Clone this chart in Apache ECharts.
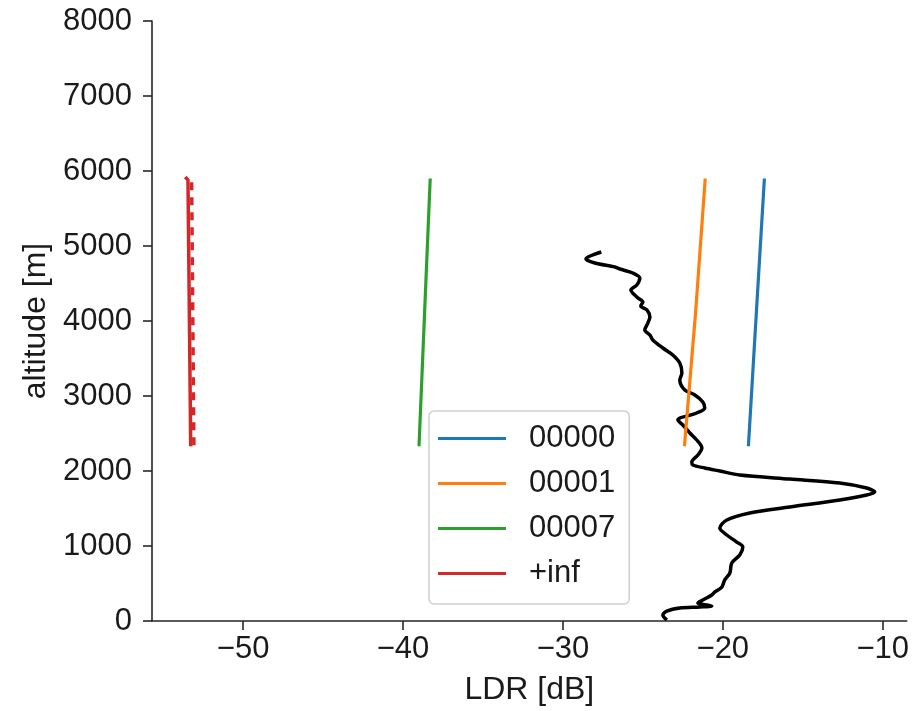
<!DOCTYPE html>
<html>
<head>
<meta charset="utf-8">
<script src="https://cdn.jsdelivr.net/npm/echarts@6/dist/echarts.min.js"></script>
<style>html,body{margin:0;padding:0;background:#fff}#c{width:912px;height:711px}</style>
</head>
<body>
<div id="c"></div>
<script>
// ---- data ----
var xTicks = [-50, -40, -30, -20, -10];
var yTicks = [0, 1000, 2000, 3000, 4000, 5000, 6000, 7000, 8000];

var modelAlt = [2330, 4120, 5900];
var ldr00000 = [-18.4, -17.9, -17.4];
var ldr00001 = [-22.4, -21.7, -21.1];
var ldr00007 = [-39.0, -38.65, -38.3];

var infAlt = [5920, 5880, 2330];
var ldrInf = [-53.62, -53.45, -53.28];
var infDashAlt = [5850, 2330];
var ldrInfDash = [-53.22, -53.08];

var obsLdr = [-27.6, -28.56, -28.0, -26.75, -26.44, -25.63, -25.19, -25.38, -25.75, -25.38, -25.0, -25.13, -24.75, -24.56, -24.69, -24.88, -24.56, -24.38, -23.75, -23.13, -22.69, -22.56, -22.69, -22.38, -21.75, -21.25, -21.13, -21.63, -22.81, -22.5, -22.06, -21.63, -21.31, -21.56, -21.94, -21.88, -21.13, -20.19, -18.94, -15.81, -12.69, -11.0, -10.5, -11.0, -12.69, -15.81, -18.31, -19.75, -20.19, -19.75, -19.13, -18.75, -18.94, -19.44, -19.56, -19.88, -20.06, -20.5, -20.69, -21.25, -21.56, -20.69, -21.44, -22.69, -23.5, -23.75, -23.5];
var obsAlt = [4920, 4827, 4773, 4720, 4693, 4640, 4573, 4480, 4413, 4320, 4253, 4200, 4147, 4053, 3973, 3880, 3813, 3747, 3640, 3547, 3440, 3307, 3213, 3080, 3013, 2920, 2840, 2773, 2680, 2613, 2507, 2413, 2307, 2213, 2120, 2080, 2040, 2000, 1947, 1893, 1840, 1773, 1720, 1680, 1613, 1520, 1440, 1347, 1240, 1147, 1053, 987, 880, 773, 640, 547, 453, 387, 347, 280, 240, 200, 187, 173, 133, 80, 13];

var seriesNames = ['00000', '00001', '00007', '+inf'];
var colors = ['#1f77b4', '#ff7f0e', '#2ca02c', '#d62728'];

function pairs(xs, ys) { return xs.map(function (v, i) { return [v, ys[i]]; }); }

var FONT = 'Liberation Sans, Arial, sans-serif';
var TXT = '#1a1a1a';

var chart = echarts.init(document.getElementById('c'), null, {renderer: 'canvas'});
chart.setOption({
  animation: false,
  backgroundColor: '#fff',
  grid: {left: 152, right: 5, top: 21, bottom: 90, containLabel: false},
  xAxis: {
    type: 'value', min: -55.7, max: -8.5,
    name: 'LDR [dB]', nameLocation: 'middle', nameGap: 53,
    nameTextStyle: {fontFamily: FONT, fontSize: 32, color: TXT},
    axisLine: {show: true, onZero: false, lineStyle: {color: '#262626', width: 1.6}},
    axisTick: {show: true, customValues: xTicks, length: 9, lineStyle: {color: '#262626', width: 1.6}},
    axisLabel: {customValues: xTicks, margin: 13, fontFamily: FONT, fontSize: 31, color: TXT,
      formatter: function (v) { return v < 0 ? '\u2212' + Math.abs(v) : String(v); }},
    splitLine: {show: false}
  },
  yAxis: {
    type: 'value', min: 0, max: 8000, interval: 1000,
    name: 'altitude [m]', nameLocation: 'middle', nameGap: 100,
    nameTextStyle: {fontFamily: FONT, fontSize: 32, color: TXT},
    axisLine: {show: true, lineStyle: {color: '#262626', width: 1.6}},
    axisTick: {show: true, length: 9, lineStyle: {color: '#262626', width: 1.6}},
    axisLabel: {margin: 20, fontFamily: FONT, fontSize: 31, color: TXT,
      formatter: function (v) { return String(v); }},
    splitLine: {show: false}
  },
  legend: {
    orient: 'vertical', left: 429, top: 411,
    data: seriesNames,
    icon: 'rect', itemWidth: 68, itemHeight: 3, itemGap: 14,
    padding: [12, 14, 15, 9],
    backgroundColor: 'rgba(255,255,255,0.8)',
    borderColor: '#d0d0d0', borderWidth: 1.5, borderRadius: 5,
    textStyle: {fontFamily: FONT, fontSize: 31, lineHeight: 31, color: TXT, padding: [0, 0, 0, 18]}
  },
  series: [
    {type: 'line', name: 'obs', data: pairs(obsLdr, obsAlt), showSymbol: false, smooth: 0.3,
      lineStyle: {color: '#000', width: 3.5}, itemStyle: {color: '#000'}, z: 2},
    {type: 'line', name: seriesNames[0], data: pairs(ldr00000, modelAlt), showSymbol: false,
      lineStyle: {color: colors[0], width: 3.2}, itemStyle: {color: colors[0]}, z: 3},
    {type: 'line', name: seriesNames[1], data: pairs(ldr00001, modelAlt), showSymbol: false,
      lineStyle: {color: colors[1], width: 3.2}, itemStyle: {color: colors[1]}, z: 3},
    {type: 'line', name: seriesNames[2], data: pairs(ldr00007, modelAlt), showSymbol: false,
      lineStyle: {color: colors[2], width: 3.2}, itemStyle: {color: colors[2]}, z: 3},
    {type: 'line', name: seriesNames[3], data: pairs(ldrInf, infAlt), showSymbol: false,
      lineStyle: {color: colors[3], width: 3.5}, itemStyle: {color: colors[3]}, z: 3},
    {type: 'line', name: 'infDash', data: pairs(ldrInfDash, infDashAlt), showSymbol: false,
      lineStyle: {color: colors[3], width: 3.5, type: [8, 7]}, itemStyle: {color: colors[3]}, z: 3}
  ]
});
</script>
</body>
</html>
